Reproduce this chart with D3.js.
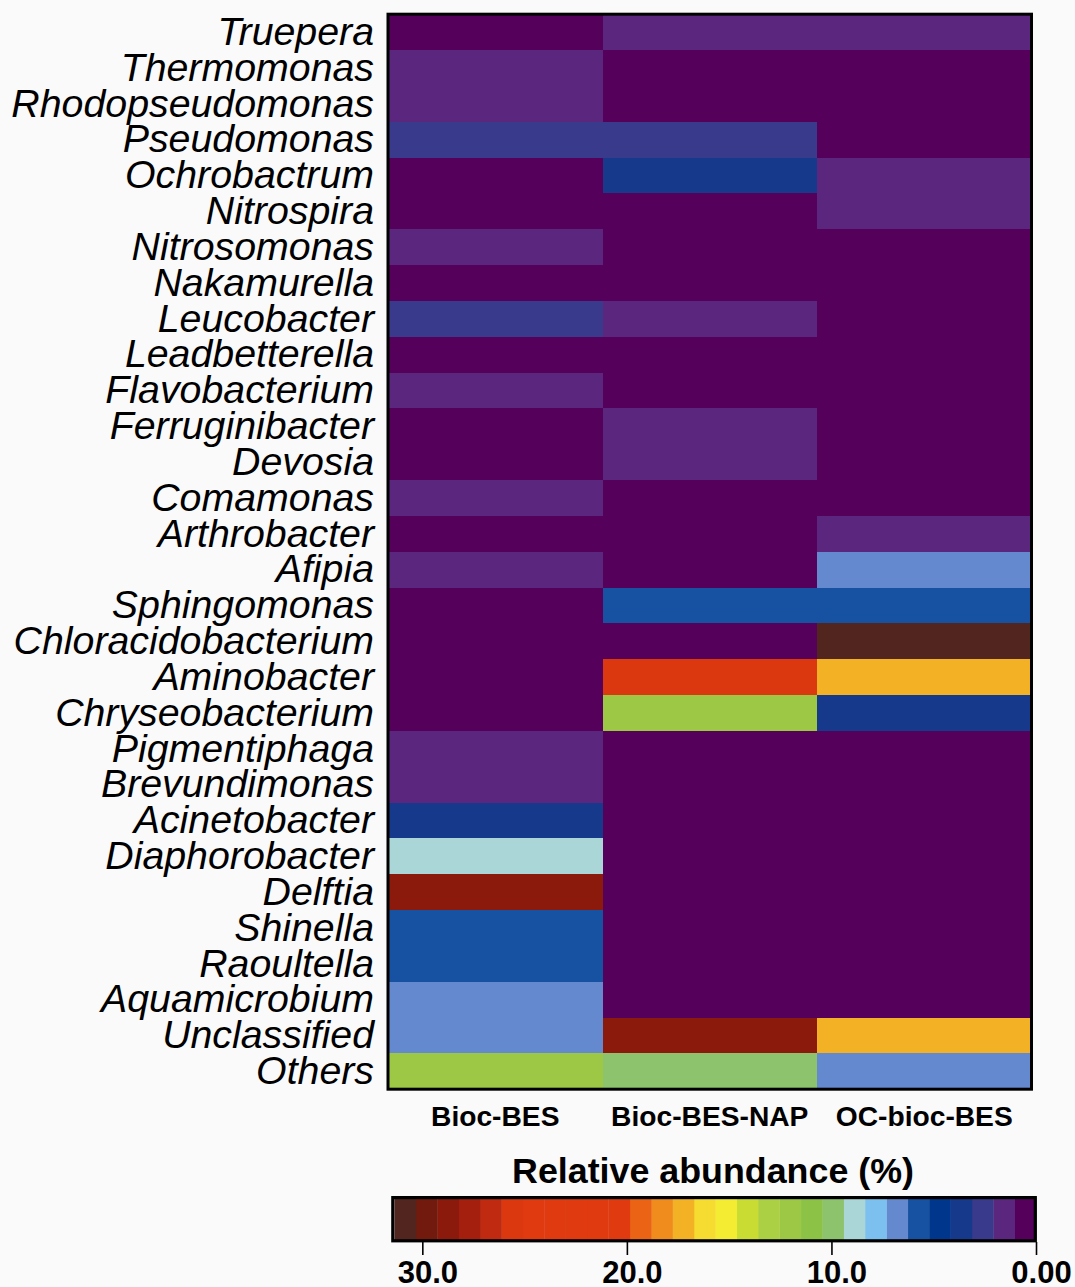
<!DOCTYPE html>
<html>
<head>
<meta charset="utf-8">
<script src="https://cdn.jsdelivr.net/npm/d3@7"></script>
<style>
  body { margin: 0; background: #fafafa; }
  svg { display: block; font-family: "Liberation Sans", Arial, Helvetica, sans-serif; }
</style>
</head>
<body>
<svg id="chart"></svg>
<script>
// genera, top to bottom
const genera = [
  "Truepera", "Thermomonas", "Rhodopseudomonas", "Pseudomonas", "Ochrobactrum",
  "Nitrospira", "Nitrosomonas", "Nakamurella", "Leucobacter", "Leadbetterella",
  "Flavobacterium", "Ferruginibacter", "Devosia", "Comamonas", "Arthrobacter",
  "Afipia", "Sphingomonas", "Chloracidobacterium", "Aminobacter", "Chryseobacterium",
  "Pigmentiphaga", "Brevundimonas", "Acinetobacter", "Diaphorobacter", "Delftia",
  "Shinella", "Raoultella", "Aquamicrobium", "Unclassified", "Others"
];

const samples = ["Bioc-BES", "Bioc-BES-NAP", "OC-bioc-BES"];

// relative abundance (%) per sample, same order as genera
const biocBES = [0.4, 1.4, 1.3, 2.5, 0.3, 0.2, 1.2, 0.5, 2.4, 0.6,
  1.5, 0.4, 0.3, 1.6, 0.2, 1.3, 0.3, 0.1, 0.2, 0.3,
  1.4, 1.2, 3.6, 8.9, 28.5, 5.7, 5.5, 6.9, 6.8, 12.0];
const biocBESNAP = [1.5, 0.4, 0.3, 2.7, 3.5, 0.2, 0.3, 0.2, 1.6, 0.5,
  0.4, 1.3, 1.4, 0.3, 0.4, 0.5, 5.8, 0.2, 25.5, 12.0,
  0.1, 0.3, 0.2, 0.1, 0.3, 0.2, 0.1, 0.4, 28.7, 10.0];
const ocBiocBES = [1.4, 0.3, 0.2, 0.6, 1.3, 1.5, 0.3, 0.2, 0.4, 0.3,
  0.2, 0.5, 0.4, 0.2, 1.6, 6.6, 5.6, 30.8, 17.3, 3.8,
  0.2, 0.1, 0.3, 0.2, 0.1, 0.2, 0.3, 0.2, 17.2, 6.8];

const legendMax = 31.36;
const legendTicks = [30, 20, 10, 0];
const legendTickLabels = ["30.0", "20.0", "10.0", "0.00"];

// 30 colour bins, low -> high
const palette = [
  "#55005a", "#5a267e", "#3a3a8c", "#17398b", "#00368b", "#1751a2", "#6589cf",
  "#7bc0ef", "#aad6d8", "#8dc36d", "#8cc346", "#9cc846", "#acd043", "#c8dc33",
  "#f3ec33", "#f6dc30", "#f3b226", "#f08b1e", "#eb6315", "#e03a10", "#e03a10",
  "#e03a10", "#e03a10", "#e03a10", "#dc3810", "#bf2a10", "#a51f0f", "#8b1a0c",
  "#731a0e", "#52261f"
];

const width = 1075;
const height = 1287;

const cells = [];
const columns = [biocBES, biocBESNAP, ocBiocBES];
samples.forEach((s, j) => {
  genera.forEach((g, i) => cells.push({ sample: s, genus: g, value: columns[j][i] }));
});

const svg = d3.select("#chart")
  .attr("width", width)
  .attr("height", height);

const x = d3.scaleBand()
  .domain(samples)
  .range([388, 1031.5]);

const y = d3.scaleBand()
  .domain(genera)
  .range([14.2, 1089.2]);

const color = d3.scaleQuantize()
  .domain([0, legendMax])
  .range(palette);

// heatmap cells
svg.append("g")
  .attr("shape-rendering", "crispEdges")
  .selectAll("rect")
  .data(cells)
  .enter()
  .append("rect")
  .attr("x", d => x(d.sample))
  .attr("y", d => y(d.genus))
  .attr("width", x.bandwidth() + 1)
  .attr("height", y.bandwidth() + 1)
  .attr("fill", d => color(d.value));

svg.append("rect")
  .attr("x", 388)
  .attr("y", 14.2)
  .attr("width", 1031.5 - 388)
  .attr("height", 1089.2 - 14.2)
  .attr("fill", "none")
  .attr("stroke", "#000")
  .attr("stroke-width", 3);

// row labels
svg.append("g")
  .selectAll("text")
  .data(genera)
  .enter()
  .append("text")
  .attr("x", 374)
  .attr("y", d => y(d) + y.bandwidth() / 2 + 12.8)
  .attr("text-anchor", "end")
  .attr("font-style", "italic")
  .attr("font-size", "39.3px")
  .attr("fill", "#000")
  .text(d => d);

// column labels
svg.append("g")
  .selectAll("text")
  .data(samples)
  .enter()
  .append("text")
  .attr("x", d => x(d) + x.bandwidth() / 2)
  .attr("y", 1126)
  .attr("text-anchor", "middle")
  .attr("font-weight", "bold")
  .attr("font-size", "28.2px")
  .text(d => d);

// colour key
const lx = d3.scaleLinear()
  .domain([legendMax, 0])
  .range([394.5, 1036]);

const bins = [0, ...color.thresholds(), legendMax];
const key = svg.append("g");

key.selectAll("rect")
  .data(palette)
  .enter()
  .append("rect")
  .attr("x", (c, i) => lx(bins[i + 1]))
  .attr("y", 1198)
  .attr("width", (c, i) => lx(bins[i]) - lx(bins[i + 1]) + 0.4)
  .attr("height", 42.5)
  .attr("fill", c => c);

key.append("rect")
  .attr("x", 392.8)
  .attr("y", 1197.6)
  .attr("width", 1035.3 - 392.8)
  .attr("height", 43.2)
  .attr("fill", "none")
  .attr("stroke", "#000")
  .attr("stroke-width", 3.2);

const axis = d3.axisBottom(lx)
  .tickValues(legendTicks)
  .tickFormat((d, i) => legendTickLabels[i])
  .tickSize(13)
  .tickPadding(3);

const ag = key.append("g")
  .attr("transform", "translate(0,1242)")
  .call(axis);

ag.select(".domain").remove();
ag.selectAll(".tick line").attr("stroke", "#000").attr("stroke-width", 1.6);
ag.selectAll(".tick text")
  .attr("y", 0)
  .attr("dy", null)
  .attr("transform", "translate(5,41)")
  .attr("fill", "#000")
  .attr("font-size", "31px")
  .attr("font-weight", "bold")
  .attr("font-family", "'Liberation Sans', Arial, sans-serif");

key.append("text")
  .attr("x", 713)
  .attr("y", 1182.7)
  .attr("text-anchor", "middle")
  .attr("font-weight", "bold")
  .attr("font-size", "35.8px")
  .text("Relative abundance (%)");
</script>
</body>
</html>
